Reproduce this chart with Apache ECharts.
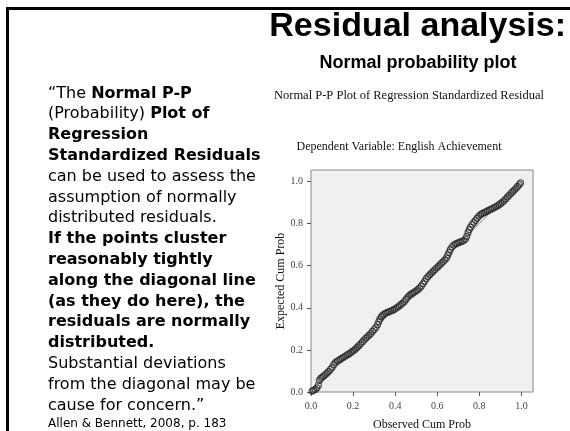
<!DOCTYPE html>
<html><head><meta charset="utf-8">
<script src="https://cdn.jsdelivr.net/npm/echarts@6/dist/echarts.min.js"></script>
<style>html,body{margin:0;padding:0;background:#fff}#c{width:570px;height:431px}</style>
</head><body><div id="c"></div>
<script>
// Data
var observedCumProb = [0.005,0.012,0.020,0.028,0.035,0.040,0.046,0.053,0.060,0.068,0.076,0.084,0.092,0.100,0.108,0.116,0.124,0.132,0.140,0.148,0.156,0.164,0.172,0.180,0.188,0.196,0.204,0.212,0.220,0.228,0.236,0.244,0.252,0.260,0.268,0.276,0.284,0.292,0.300,0.308,0.316,0.322,0.328,0.334,0.340,0.348,0.356,0.364,0.372,0.380,0.388,0.396,0.404,0.412,0.420,0.428,0.436,0.444,0.452,0.460,0.468,0.476,0.484,0.492,0.500,0.508,0.516,0.524,0.532,0.540,0.548,0.556,0.564,0.572,0.580,0.588,0.596,0.604,0.612,0.620,0.628,0.636,0.644,0.650,0.656,0.662,0.670,0.678,0.686,0.694,0.702,0.710,0.718,0.726,0.734,0.740,0.746,0.752,0.758,0.766,0.774,0.782,0.790,0.798,0.806,0.814,0.822,0.830,0.838,0.846,0.854,0.862,0.870,0.878,0.886,0.894,0.902,0.910,0.918,0.926,0.934,0.942,0.950,0.958,0.966,0.974,0.982,0.990,0.996];
var expectedCumProb = [0.004,0.008,0.012,0.020,0.032,0.055,0.065,0.070,0.076,0.083,0.090,0.098,0.107,0.116,0.130,0.140,0.146,0.151,0.156,0.161,0.166,0.171,0.176,0.181,0.186,0.192,0.198,0.205,0.213,0.221,0.229,0.238,0.247,0.255,0.262,0.270,0.278,0.288,0.297,0.306,0.320,0.334,0.347,0.357,0.364,0.370,0.375,0.379,0.382,0.385,0.389,0.393,0.398,0.404,0.410,0.416,0.423,0.430,0.441,0.451,0.459,0.465,0.470,0.475,0.481,0.487,0.494,0.503,0.514,0.526,0.539,0.549,0.557,0.565,0.573,0.581,0.589,0.596,0.604,0.612,0.620,0.628,0.637,0.650,0.664,0.677,0.689,0.697,0.703,0.707,0.710,0.713,0.716,0.720,0.727,0.740,0.757,0.772,0.784,0.796,0.806,0.816,0.826,0.836,0.843,0.848,0.852,0.856,0.860,0.864,0.868,0.872,0.876,0.880,0.885,0.890,0.896,0.903,0.910,0.918,0.927,0.935,0.944,0.952,0.960,0.968,0.977,0.986,0.994];
var referenceLineX = [0, 1];
var referenceLineY = [0, 1];
var tickValues = [0, 0.2, 0.4, 0.6, 0.8, 1.0];

var points = observedCumProb.map(function (x, i) { return [x, expectedCumProb[i]]; });
var refLine = referenceLineX.map(function (x, i) { return [x, referenceLineY[i]]; });

var chart = echarts.init(document.getElementById('c'), null, {renderer: 'canvas'});
var serif = '"Liberation Serif", "DejaVu Serif", serif';
function axis(name, isY) {
  return {
    type: 'value', min: 0, max: 1.055,
    name: name, nameLocation: 'middle', nameGap: isY ? 24 : 27,
    nameTextStyle: {fontFamily: serif, fontSize: 12, color: '#111'},
    axisLine: {show: false},
    axisTick: {show: true, customValues: tickValues, length: 4, lineStyle: {color: '#555'}},
    axisLabel: {customValues: tickValues, fontFamily: serif, fontSize: 10, color: '#444', margin: isY ? 8 : 9,
      formatter: function (v) { return v.toFixed(1); }},
    splitLine: {show: false}
  };
}
var leftText = '{n|\u201cThe }{b|Normal P-P}\n' +
  '{n|(Probability) }{b|Plot of}\n' +
  '{b|Regression}\n' +
  '{b|Standardized Residuals}\n' +
  '{n|can be used to assess the}\n' +
  '{n|assumption of normally}\n' +
  '{n|distributed residuals.}\n' +
  '{b|If the points cluster}\n' +
  '{b|reasonably tightly}\n' +
  '{b|along the diagonal line}\n' +
  '{b|(as they do here), the}\n' +
  '{b|residuals are normally}\n' +
  '{b|distributed.}\n' +
  '{n|Substantial deviations}\n' +
  '{n|from the diagonal may be}\n' +
  '{n|cause for concern.\u201d}\n' +
  '{s|Allen & Bennett, 2008, p. 183}';
chart.setOption({
  animation: false,
  backgroundColor: '#fff',
  grid: {left: 311, top: 170, right: 37, bottom: 39, outerBoundsMode: 'none', containLabel: false,
    show: true, backgroundColor: '#f0f0f0', borderColor: '#888', borderWidth: 1},
  xAxis: axis('Observed Cum Prob', false),
  yAxis: axis('Expected Cum Prob', true),
  series: [
    {type: 'line', data: refLine, symbol: 'none', lineStyle: {color: '#999', width: 1}, z: 1},
    {type: 'scatter', data: points, symbol: 'circle', symbolSize: 6,
     itemStyle: {color: 'rgba(0,0,0,0)', borderColor: '#2a2a2a', borderWidth: 1.2}, z: 2}
  ],
  graphic: [
    {type: 'rect', shape: {x: 6, y: 7, width: 564, height: 3}, style: {fill: '#000'}},
    {type: 'rect', shape: {x: 6, y: 7, width: 3, height: 424}, style: {fill: '#000'}},
    {type: 'text', style: {x: 566, y: 27, text: 'Residual analysis:', align: 'right', verticalAlign: 'middle',
      font: 'bold 34px "Liberation Sans", Arial, sans-serif', fill: '#000'}},
    {type: 'text', style: {x: 418, y: 63, text: 'Normal probability plot', align: 'center', verticalAlign: 'middle',
      font: 'bold 18px "Liberation Sans", Arial, sans-serif', fill: '#000'}},
    {type: 'text', style: {x: 409, y: 96, text: 'Normal P-P Plot of Regression Standardized Residual', align: 'center', verticalAlign: 'middle',
      font: '12.5px "Liberation Serif", serif', fill: '#111'}},
    {type: 'text', style: {x: 399, y: 147, text: 'Dependent Variable: English Achievement', align: 'center', verticalAlign: 'middle',
      font: '12px "Liberation Serif", serif', fill: '#111'}},
    {type: 'text', style: {x: 48, y: 83, text: leftText, lineHeight: 20.8,
      rich: {
        n: {fontFamily: '"DejaVu Sans", Verdana, sans-serif', fontSize: 16, lineHeight: 20.8, fill: '#000'},
        b: {fontFamily: '"DejaVu Sans", Verdana, sans-serif', fontSize: 16, fontWeight: 'bold', lineHeight: 20.8, fill: '#000'},
        s: {fontFamily: '"DejaVu Sans", Verdana, sans-serif', fontSize: 12, lineHeight: 17, fill: '#000'}
      }}}
  ]
});
</script></body></html>
